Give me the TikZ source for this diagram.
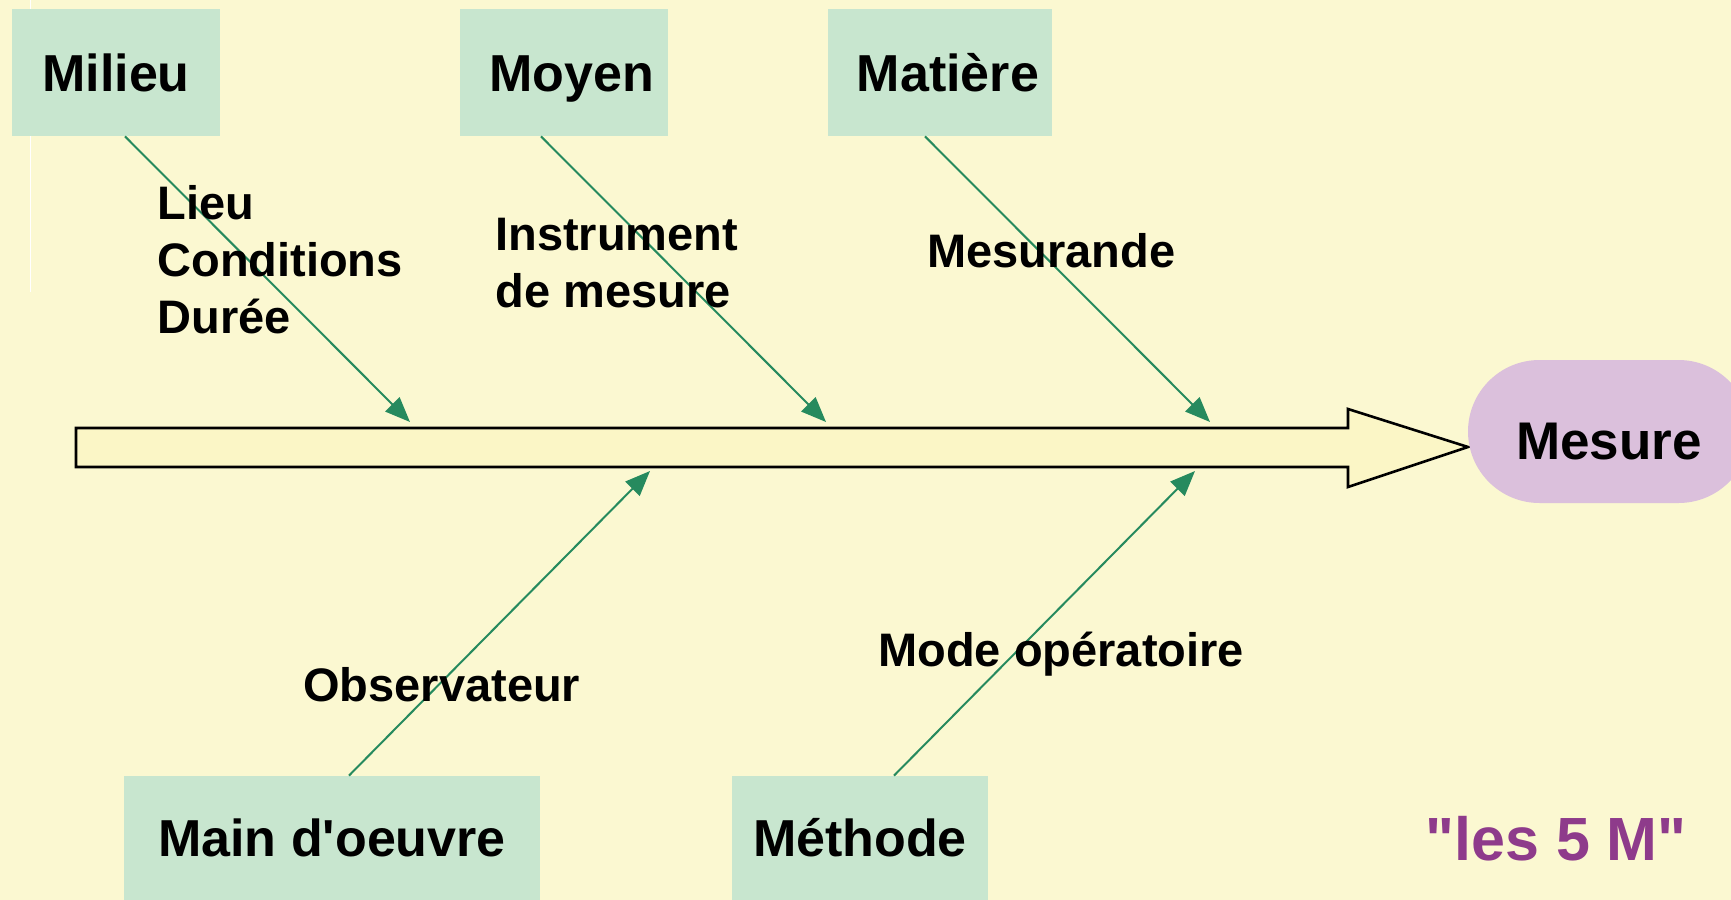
\documentclass[tikz,border=0pt]{standalone}
\usepackage{fontspec}
\setmainfont{Liberation Sans}[Ligatures=TeXOff]
\usetikzlibrary{arrows.meta}
\definecolor{fondJaune}{HTML}{FBF8D1}
\definecolor{arreteJaune}{HTML}{FBF6C6}
\definecolor{boiteVert}{HTML}{C8E6CF}
\definecolor{boiteMauve}{HTML}{DBC0DC}
\definecolor{flecheVert}{HTML}{268A5E}
\definecolor{titreMauve}{HTML}{8E3B8B}
\tikzset{
  cause/.style={fill=boiteVert, inner sep=0pt, text height=18.6pt, text depth=0pt,
    font=\fontsize{26}{30}\selectfont\bfseries},
  etiq/.style={inner sep=0pt, align=left, font=\fontsize{23.5}{28.5}\selectfont\bfseries},
  fleche/.style={flecheVert, line width=1pt, -{Triangle[length=12.5pt,width=10pt]}}
}
\begin{document}
\begin{tikzpicture}[x=0.5pt,y=-0.5pt]
        % fond
        \fill[fondJaune] (0,0) rectangle (1731,900);
        \useasboundingbox (0,0) rectangle (1731,900);
        \draw[white, line width=0.5pt] (30.5,0) -- (30.5,292);
        % arete centrale
        \draw[fill=arreteJaune, line width=1.3pt, line join=miter]
          (76,428) -- (1348,428) -- (1348,409) -- (1468,447) -- (1348,487) -- (1348,467) -- (76,467) -- cycle;
        % effet
        \node[fill=boiteMauve, rounded corners=35.75pt, minimum width=141pt, minimum height=71.5pt,
              inner sep=0pt, text height=18.6pt, text depth=0pt, font=\fontsize{26.5}{30}\selectfont\bfseries]
          (mesure) at (1609,431.5) {\raisebox{-4.75pt}{Mesure}};
        % les 5 causes
        \node[cause, minimum width=104pt, minimum height=63.5pt] (milieu) at (116,72.5) {Milieu};
        \node[cause, minimum width=104pt, minimum height=63.5pt] (moyen) at (564,72.5) {\hspace*{8pt}Moyen};
        \node[cause, minimum width=112pt, minimum height=63.5pt] (matiere) at (940,72.5) {\hspace*{8pt}Matière};
        \node[cause, minimum width=208pt, minimum height=62pt] (main) at (332,838) {Main d'oeuvre};
        \node[cause, minimum width=128pt, minimum height=62pt] (methode) at (860,838) {Méthode};
        % points d'arrivee sur l'arete
        \coordinate (pMilieu) at (410,422);
        \coordinate (pMoyen) at (826,422);
        \coordinate (pMatiere) at (1210,422);
        \coordinate (pMain) at (650,471);
        \coordinate (pMethode) at (1195,471);
        \foreach \b/\dx/\p in {milieu/4.5/pMilieu,moyen/-11.5/pMoyen,matiere/-7.5/pMatiere}
          {\draw[fleche] ([xshift=\dx pt]\b.south) -- (\p);}
        \foreach \b/\dx/\p in {main/8.5/pMain,methode/17/pMethode}
          {\draw[fleche] ([xshift=\dx pt]\b.north) -- (\p);}
        % sous-causes
        \node[etiq, anchor=north west] (lieu) at (157,185) {Lieu\\Conditions\\Durée};
        \node[etiq, anchor=north west] (instr) at (495,218) {Instrument\\de mesure};
        \node[etiq, anchor=base west] (mesurande) at (927,267) {Mesurande};
        \node[etiq, anchor=base west] (observ) at (303,701) {Observateur};
        \node[etiq, anchor=base west] (mode) at (878,666) {Mode opératoire};
        \node[anchor=base west, inner sep=0pt, text=titreMauve, font=\fontsize{30.5}{34}\selectfont\bfseries]
          (titre) at (1425,860) {"les 5 M"};
\end{tikzpicture}
\end{document}
